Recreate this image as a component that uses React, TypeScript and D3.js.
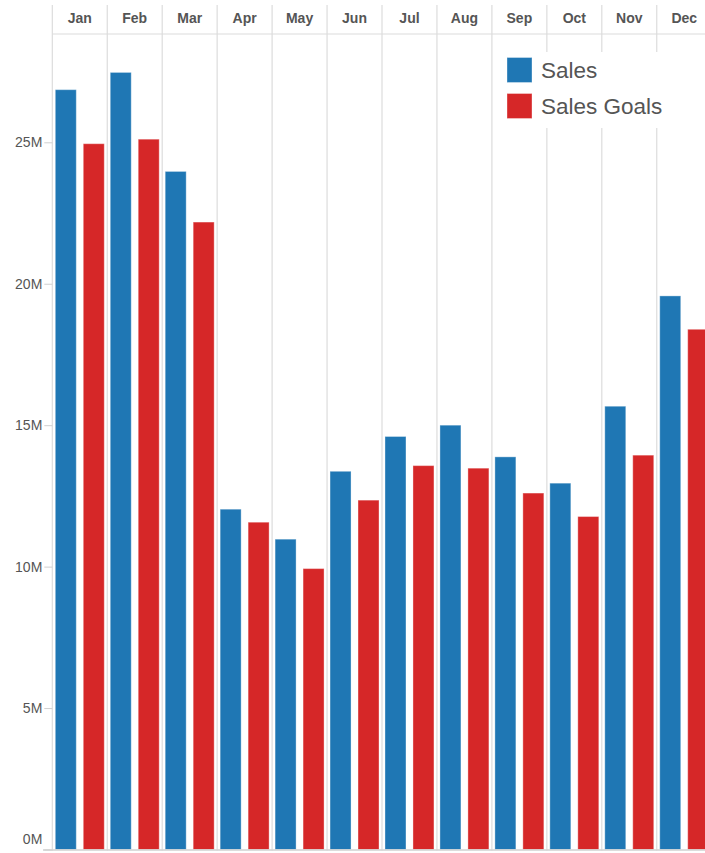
import * as d3 from 'd3';
import { useEffect, useRef } from 'react';

// monthly values, in millions
const months = ['Jan', 'Feb', 'Mar', 'Apr', 'May', 'Jun', 'Jul', 'Aug', 'Sep', 'Oct', 'Nov', 'Dec'];
const sales = [26.86, 27.47, 23.97, 12.03, 10.97, 13.37, 14.6, 15.0, 13.88, 12.95, 15.67, 19.57];
const salesGoals = [24.95, 25.11, 22.18, 11.57, 9.93, 12.35, 13.57, 13.48, 12.6, 11.77, 13.94, 18.39];
const seriesNames = ['Sales', 'Sales Goals'];
const yTicks = [0, 5, 10, 15, 20, 25];

const colors: Record<string, string> = { Sales: '#1f77b4', 'Sales Goals': '#d62728' };

function App() {
  const chartRef = useRef<SVGSVGElement>(null);

  const width = 705;
  const height = 853;
  const left = 52.3;
  const top = 34;
  const bottom = 849.5;
  const gridTop = 5;
  const font = 'Arial, "Liberation Sans", sans-serif';

  useEffect(() => {
    const svg = d3.select(chartRef.current);
    svg.selectAll('*').remove();

    const x = d3
      .scaleBand()
      .domain(months)
      .range([left, left + 12 * 54.95])
      .padding(0);

    const xInner = d3
      .scaleBand()
      .domain(seriesNames)
      .range([0, x.bandwidth()])
      .paddingInner(0.25)
      .paddingOuter(0.107);

    const y = d3.scaleLinear().domain([0, 25]).range([bottom, 142.3]);

    // vertical column dividers
    svg
      .append('g')
      .selectAll('line')
      .data(months)
      .enter()
      .append('line')
      .attr('x1', (d) => x(d)!)
      .attr('x2', (d) => x(d)!)
      .attr('y1', gridTop)
      .attr('y2', bottom + 1)
      .attr('stroke', '#dcdcdc')
      .attr('stroke-width', 1.2);

    // header separator
    svg
      .append('line')
      .attr('x1', left)
      .attr('x2', width)
      .attr('y1', top)
      .attr('y2', top)
      .attr('stroke', '#dcdcdc')
      .attr('stroke-width', 1.2);

    // month headers
    svg
      .append('g')
      .selectAll('text')
      .data(months)
      .enter()
      .append('text')
      .attr('x', (d) => x(d)! + x.bandwidth() / 2)
      .attr('y', 18.5)
      .attr('dy', '0.35em')
      .attr('text-anchor', 'middle')
      .attr('font-family', font)
      .attr('font-weight', 'bold')
      .attr('font-size', 14)
      .attr('fill', '#555')
      .text((d) => d);

    // bars
    const rows = months.map((m, i) => ({ month: m, values: [sales[i], salesGoals[i]] }));
    svg
      .append('g')
      .selectAll('g')
      .data(rows)
      .enter()
      .append('g')
      .attr('transform', (d) => `translate(${x(d.month)},0)`)
      .selectAll('rect')
      .data((d) => d.values.map((v, j) => ({ key: seriesNames[j], value: v })))
      .enter()
      .append('rect')
      .attr('x', (d) => xInner(d.key)!)
      .attr('width', xInner.bandwidth())
      .attr('y', (d) => y(d.value))
      .attr('height', (d) => bottom - y(d.value))
      .attr('fill', (d) => colors[d.key])
      .attr('stroke', 'rgba(255,255,255,0.35)')
      .attr('stroke-width', 1);

    // y axis
    const yAxis = svg
      .append('g')
      .attr('transform', `translate(${left},0)`)
      .call(
        d3
          .axisLeft(y)
          .tickValues(yTicks)
          .tickSize(8)
          .tickPadding(2)
          .tickFormat((d) => `${d}M`)
      );
    yAxis.select('.domain').remove();
    yAxis.selectAll('line').attr('stroke', '#d0d0d0');
    yAxis
      .selectAll('text')
      .attr('font-family', font)
      .attr('font-size', 14)
      .attr('fill', '#555')
      .attr('dy', (d) => (d === 0 ? '-0.4em' : '0.32em'));

    // baseline
    svg
      .append('line')
      .attr('x1', 43)
      .attr('x2', width)
      .attr('y1', bottom + 0.5)
      .attr('y2', bottom + 0.5)
      .attr('stroke', '#d0d0d0')
      .attr('stroke-width', 1.5);

    // legend
    const legend = svg.append('g');
    legend
      .append('rect')
      .attr('x', 494)
      .attr('y', 52)
      .attr('width', width - 494)
      .attr('height', 76)
      .attr('fill', '#fff');
    seriesNames.forEach((name, i) => {
      const ly = 57.5 + i * 36;
      legend
        .append('rect')
        .attr('x', 507)
        .attr('y', ly)
        .attr('width', 25)
        .attr('height', 25)
        .attr('fill', colors[name])
        .attr('stroke', 'rgba(255,255,255,0.35)');
      legend
        .append('text')
        .attr('x', 541)
        .attr('y', ly + 12.5)
        .attr('dy', '0.35em')
        .attr('font-family', font)
        .attr('font-size', 22.5)
        .attr('fill', '#555')
        .text(name);
    });
  }, []);

  return (
    <div style={{ position: 'absolute', left: 0, top: 0 }}>
      <svg ref={chartRef} width={width} height={height} style={{ display: 'block' }} />
    </div>
  );
}

export default App;
